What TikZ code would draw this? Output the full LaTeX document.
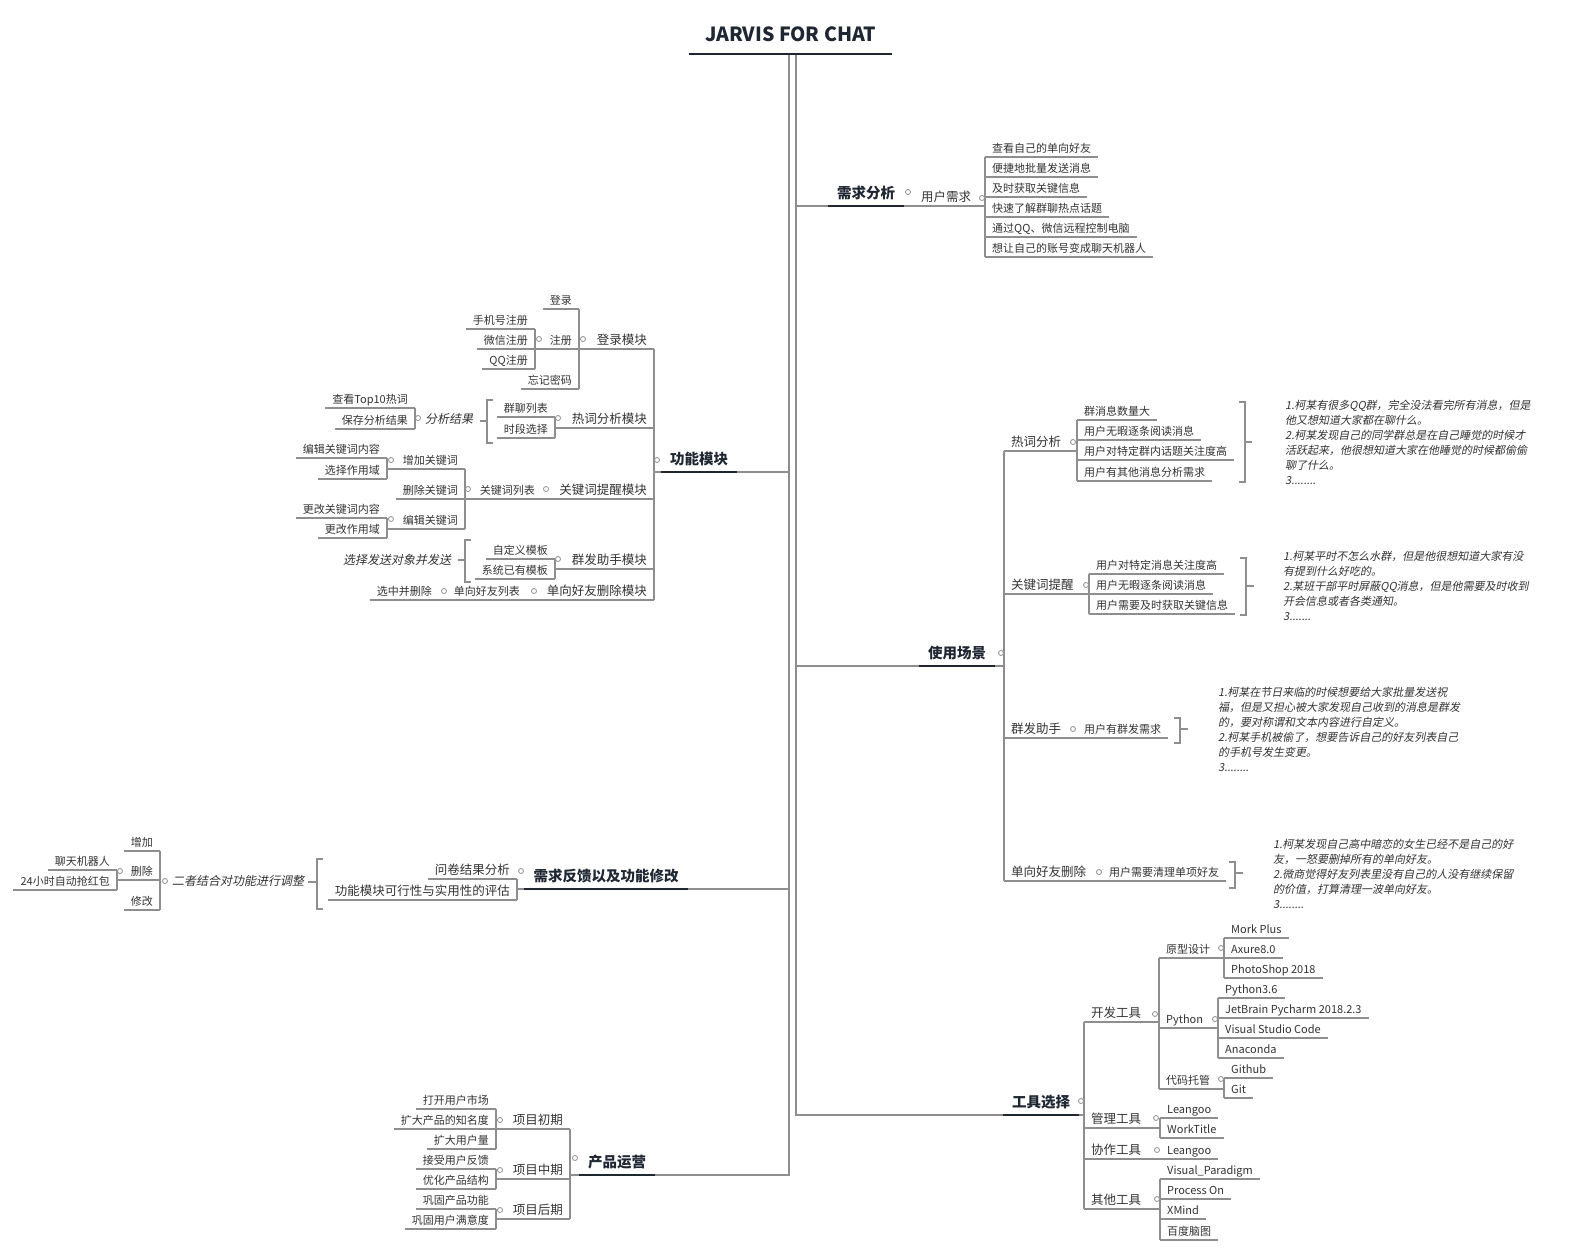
\documentclass[tikz,border=0pt]{standalone}
\usepackage{fontspec}
\setmainfont{Noto Sans CJK SC}
\newfontfamily\slfont{Noto Sans CJK SC}[FakeSlant=0.2]
\definecolor{ink}{HTML}{333333}
\definecolor{rule}{HTML}{8E8E8E}
\definecolor{deep}{HTML}{1F2733}

\tikzset{
  ln/.style={draw=rule, line width=1.1pt},
  thk/.style={draw=deep, line width=2.6pt},
  ul/.style={append after command={(\tikzlastnode.south west) edge[ln] (\tikzlastnode.south east)}},
  knob/.style={circle, draw=rule, fill=white, line width=0.8pt, inner sep=0pt, minimum size=5pt},
  box/.style={inner xsep=7pt, inner ysep=1.8pt, text depth=2.5pt, text=ink},
  lvA/.style={box, ul, font=\fontsize{12.5}{14}\selectfont},
  lvB/.style={box, ul, font=\fontsize{11}{13}\selectfont},
  sumtext/.style={text=ink, inner sep=0pt, font=\slfont\fontsize{12}{14}\selectfont},
  note/.style={text=ink, align=left, anchor=north west, inner sep=0pt, font=\slfont\fontsize{11}{15}\selectfont},
  main/.style={inner xsep=9pt, inner ysep=4.5pt, text depth=3pt, text=deep, font=\fontsize{14.5}{16}\selectfont\bfseries},
  title/.style={minimum width=203pt, inner ysep=12pt, text depth=0pt, text=deep, font=\fontsize{19.5}{22}\selectfont\bfseries},
  toL/.style={anchor=south east},
  toR/.style={anchor=south west},
}

\begin{document}
\begin{tikzpicture}[x=1pt,y=-1pt]
\fill[white] (-2,-2) rectangle (1570,1246);
\useasboundingbox (-2,-2) rectangle (1570,1246);

\node[title, anchor=south] (jarvis) at (788.5,52) {JARVIS FOR CHAT};
\draw[thk] (jarvis.south west) -- (jarvis.south east);
\coordinate (spL) at (787,53);
\coordinate (spR) at (794,53);

% 需求分析
\node[main, anchor=south] (demand) at (864,204) {需求分析};
\node[lvA, toR] (need) at (912,204) {用户需求};
\node[lvB, toR] (need1) at (983,155) {查看自己的单向好友};
\node[lvB, toR] (need2) at (983,175) {便捷地批量发送消息};
\node[lvB, toR] (need3) at (983,195) {及时获取关键信息};
\node[lvB, toR] (need4) at (983,215) {快速了解群聊热点话题};
\node[lvB, toR] (need5) at (983,235) {通过QQ、微信远程控制电脑};
\node[lvB, toR] (need6) at (983,255) {想让自己的账号变成聊天机器人};
\draw[ln] (spR |- demand.south) -- (need1.south west |- demand.south);
\draw[ln] (need1.south west) -- (need6.south west);
\draw[thk] (demand.south west) -- (demand.south east);

% 功能模块
\node[main, anchor=south] (func) at (697,470) {功能模块};
\node[lvA, toL] (login) at (652,347) {登录模块};
\node[lvB, toL] (login1) at (577,307) {登录};
\node[lvB, toL] (login2) at (577,347) {注册};
\node[lvB, toL] (login3) at (577,387) {忘记密码};
\node[lvB, toL] (reg1) at (533,327) {手机号注册};
\node[lvB, toL] (reg2) at (533,347) {微信注册};
\node[lvB, toL] (reg3) at (533,367) {QQ注册};
\node[lvA, toL] (hot) at (652,426) {热词分析模块};
\node[lvB, toL] (hot1) at (553,415) {群聊列表};
\node[lvB, toL] (hot2) at (553,436) {时段选择};
\node[sumtext] (hotsum) at (447,417) {分析结果};
\node[lvB, toL] (hs1) at (413,406) {查看Top10热词};
\node[lvB, toL] (hs2) at (413,427) {保存分析结果};
\node[lvA, toL] (kw) at (652,497) {关键词提醒模块};
\node[lvB, toL] (kwl) at (540,497) {关键词列表};
\node[lvB, toL] (kw1) at (463,467) {增加关键词};
\node[lvB, toL] (kw2) at (463,497) {删除关键词};
\node[lvB, toL] (kw3) at (463,527) {编辑关键词};
\node[lvB, toL] (add1) at (385,456) {编辑关键词内容};
\node[lvB, toL] (add2) at (385,477) {选择作用域};
\node[lvB, toL] (ed1) at (385,516) {更改关键词内容};
\node[lvB, toL] (ed2) at (385,536) {更改作用域};
\node[lvA, toL] (mass) at (652,567) {群发助手模块};
\node[lvB, toL] (mass1) at (553,557) {自定义模板};
\node[lvB, toL] (mass2) at (553,577) {系统已有模板};
\node[sumtext] (masssum) at (395,558) {选择发送对象并发送};
\node[lvA, toL] (del) at (652,598) {单向好友删除模块};
\node[lvB, toL] (dl) at (525,598) {单向好友列表};
\node[lvB, toL] (dsel) at (437,598) {选中并删除};
\draw[ln] (spL |- func.south) -- (login.south east |- func.south);
\draw[thk] (func.south west) -- (func.south east);
\draw[ln] (login.south east) -- (del.south east);
\draw[ln] (login.south east) -- (login1.south east |- login.south);
\draw[ln] (login1.south east) -- (login3.south east);
\draw[ln] (login2.south east) -- (reg1.south east |- login2.south);
\draw[ln] (reg1.south east) -- (reg3.south east);
\draw[ln] (hot.south east) -- (hot1.south east |- hot.south);
\draw[ln] (hot1.south east) -- (hot2.south east);
\draw[ln] (491,398) -- (485,398) -- (485,441) -- (491,441) (485,419) -- (478,419);
\draw[ln] (hs1.south east) -- (hs2.south east);
\draw[ln] (kw.south east) -- (kw1.south east |- kw.south);
\draw[ln] (kw1.south east) -- (kw3.south east);
\draw[ln] (kw1.south east) -- (add1.south east |- kw1.south);
\draw[ln] (add1.south east) -- (add2.south east);
\draw[ln] (kw3.south east) -- (ed1.south east |- kw3.south);
\draw[ln] (ed1.south east) -- (ed2.south east);
\draw[ln] (mass.south east) -- (mass1.south east |- mass.south);
\draw[ln] (mass1.south east) -- (mass2.south east);
\draw[ln] (469,538) -- (463,538) -- (463,580) -- (469,580) (463,558) -- (456,558);
\draw[ln] (del.south east) -- (dsel.south east |- del.south);

% 需求反馈以及功能修改
\node[main, anchor=south] (fb) at (604,887) {需求反馈以及功能修改};
\node[lvA, toL] (fb1) at (515,877) {问卷结果分析};
\node[lvA, toL] (fb2) at (515,898) {功能模块可行性与实用性的评估};
\node[sumtext] (fbsum) at (236,879) {二者结合对功能进行调整};
\node[lvB, toL] (fs1) at (158,849) {增加};
\node[lvB, toL] (fs2) at (158,878) {删除};
\node[lvB, toL] (fs3) at (158,908) {修改};
\node[lvB, toL] (fd1) at (115,868) {聊天机器人};
\node[lvB, toL] (fd2) at (115,888) {24小时自动抢红包};
\draw[ln] (spL |- fb.south) -- (fb1.south east |- fb.south);
\draw[thk] (fb.south west) -- (fb.south east);
\draw[ln] (fb1.south east) -- (fb2.south east);
\draw[ln] (321,857) -- (315,857) -- (315,907) -- (321,907) (315,880) -- (306,880);
\draw[ln] (fs1.south east) -- (fs3.south east);
\draw[ln] (fs2.south east) -- (fd1.south east |- fs2.south);
\draw[ln] (fd1.south east) -- (fd2.south east);

% 产品运营
\node[main, anchor=south] (ops) at (615,1173) {产品运营};
\node[lvA, toL] (op1) at (568,1127) {项目初期};
\node[lvA, toL] (op2) at (568,1177) {项目中期};
\node[lvA, toL] (op3) at (568,1217) {项目后期};
\node[lvB, toL] (op11) at (494,1107) {打开用户市场};
\node[lvB, toL] (op12) at (494,1127) {扩大产品的知名度};
\node[lvB, toL] (op13) at (494,1147) {扩大用户量};
\node[lvB, toL] (op21) at (494,1167) {接受用户反馈};
\node[lvB, toL] (op22) at (494,1187) {优化产品结构};
\node[lvB, toL] (op31) at (494,1207) {巩固产品功能};
\node[lvB, toL] (op32) at (494,1227) {巩固用户满意度};
\draw[ln] (spL) -- (spL |- ops.south) -- (op1.south east |- ops.south);
\draw[thk] (ops.south west) -- (ops.south east);
\draw[ln] (op1.south east) -- (op3.south east);
\draw[ln] (op1.south east) -- (op11.south east |- op1.south);
\draw[ln] (op11.south east) -- (op13.south east);
\draw[ln] (op2.south east) -- (op21.south east |- op2.south);
\draw[ln] (op21.south east) -- (op22.south east);
\draw[ln] (op3.south east) -- (op31.south east |- op3.south);
\draw[ln] (op31.south east) -- (op32.south east);

% 使用场景
\node[main, anchor=south] (scene) at (955,664) {使用场景};
\node[lvA, toR] (sc1) at (1002,449) {热词分析};
\node[lvB, toR] (sc11) at (1075,418) {群消息数量大};
\node[lvB, toR] (sc12) at (1075,438) {用户无暇逐条阅读消息};
\node[lvB, toR] (sc13) at (1075,458) {用户对特定群内话题关注度高};
\node[lvB, toR] (sc14) at (1075,479) {用户有其他消息分析需求};
\node[note] (n1) at (1283,397.5) {1.柯某有很多QQ群，完全没法看完所有消息，但是\\他又想知道大家都在聊什么。\\2.柯某发现自己的同学群总是在自己睡觉的时候才\\活跃起来，他很想知道大家在他睡觉的时候都偷偷\\聊了什么。\\3........};
\node[lvA, toR] (sc2) at (1002,592) {关键词提醒};
\node[lvB, toR] (sc21) at (1087,572) {用户对特定消息关注度高};
\node[lvB, toR] (sc22) at (1087,592) {用户无暇逐条阅读消息};
\node[lvB, toR] (sc23) at (1087,612) {用户需要及时获取关键信息};
\node[note] (n2) at (1281,548.5) {1.柯某平时不怎么水群，但是他很想知道大家有没\\有提到什么好吃的。\\2.某班干部平时屏蔽QQ消息，但是他需要及时收到\\开会信息或者各类通知。\\3.......};
\node[lvA, toR] (sc3) at (1002,736) {群发助手};
\node[lvB, toR] (sc31) at (1075,736) {用户有群发需求};
\node[note] (n3) at (1216,684.5) {1.柯某在节日来临的时候想要给大家批量发送祝\\福，但是又担心被大家发现自己收到的消息是群发\\的，要对称谓和文本内容进行自定义。\\2.柯某手机被偷了，想要告诉自己的好友列表自己\\的手机号发生变更。\\3........};
\node[lvA, toR] (sc4) at (1002,879) {单向好友删除};
\node[lvB, toR] (sc41) at (1100,879) {用户需要清理单项好友};
\node[note] (n4) at (1271,836.5) {1.柯某发现自己高中暗恋的女生已经不是自己的好\\友，一怒要删掉所有的单向好友。\\2.微商觉得好友列表里没有自己的人没有继续保留\\的价值，打算清理一波单向好友。\\3........};
\draw[ln] (spR |- scene.south) -- (sc1.south west |- scene.south);
\draw[thk] (scene.south west) -- (scene.south east);
\draw[ln] (sc1.south west) -- (sc4.south west);
\draw[ln] (sc1.south west) -- (sc11.south west |- sc1.south);
\draw[ln] (sc11.south west) -- (sc14.south west);
\draw[ln] (1237,400) -- (1243,400) -- (1243,480) -- (1237,480) (1243,440) -- (1250,440);
\draw[ln] (sc2.south west) -- (sc21.south west |- sc2.south);
\draw[ln] (sc21.south west) -- (sc23.south west);
\draw[ln] (1238,556) -- (1244,556) -- (1244,613) -- (1238,613) (1244,584) -- (1252,584);
\draw[ln] (sc3.south west) -- (sc31.south west);
\draw[ln] (1172,716) -- (1178,716) -- (1178,741) -- (1172,741) (1178,727) -- (1186,727);
\draw[ln] (sc4.south west) -- (sc41.south west);
\draw[ln] (1227,860) -- (1233,860) -- (1233,886) -- (1227,886) (1233,871) -- (1241,871);

% 工具选择
\node[main, anchor=south] (tools) at (1039,1113) {工具选择};
\node[lvA, toR] (t1) at (1082,1020) {开发工具};
\node[lvB, toR] (t11) at (1157,956) {原型设计};
\node[lvB, toR] (t111) at (1222,936) {Mork Plus};
\node[lvB, toR] (t112) at (1222,956) {Axure8.0};
\node[lvB, toR] (t113) at (1222,976) {PhotoShop 2018};
\node[lvB, toR] (t12) at (1157,1026) {Python};
\node[lvB, toR] (t121) at (1216,996) {Python3.6};
\node[lvB, toR] (t122) at (1216,1016) {JetBrain Pycharm 2018.2.3};
\node[lvB, toR] (t123) at (1216,1036) {Visual Studio Code};
\node[lvB, toR] (t124) at (1216,1056) {Anaconda};
\node[lvB, toR] (t13) at (1157,1087) {代码托管};
\node[lvB, toR] (t131) at (1222,1076) {Github};
\node[lvB, toR] (t132) at (1222,1096) {Git};
\node[lvA, toR] (t2) at (1082,1126) {管理工具};
\node[lvB, toR] (t21) at (1158,1116) {Leangoo};
\node[lvB, toR] (t22) at (1158,1136) {WorkTitle};
\node[lvA, toR] (t3) at (1082,1157) {协作工具};
\node[lvB, toR] (t31) at (1158,1157) {Leangoo};
\node[lvA, toR] (t4) at (1082,1207) {其他工具};
\node[lvB, toR] (t41) at (1158,1177) {Visual\_Paradigm};
\node[lvB, toR] (t42) at (1158,1197) {Process On};
\node[lvB, toR] (t43) at (1158,1217) {XMind};
\node[lvB, toR] (t44) at (1158,1238) {百度脑图};
\draw[ln] (spR) -- (spR |- tools.south) -- (t1.south west |- tools.south);
\draw[thk] (tools.south west) -- (tools.south east);
\draw[ln] (t1.south west) -- (t4.south west);
\draw[ln] (t1.south west) -- (t11.south west |- t1.south);
\draw[ln] (t11.south west) -- (t13.south west);
\draw[ln] (t11.south west) -- (t111.south west |- t11.south);
\draw[ln] (t111.south west) -- (t113.south west);
\draw[ln] (t12.south west) -- (t121.south west |- t12.south);
\draw[ln] (t121.south west) -- (t124.south west);
\draw[ln] (t13.south west) -- (t131.south west |- t13.south);
\draw[ln] (t131.south west) -- (t132.south west);
\draw[ln] (t2.south west) -- (t21.south west |- t2.south);
\draw[ln] (t21.south west) -- (t22.south west);
\draw[ln] (t3.south west) -- (t31.south west);
\draw[ln] (t4.south west) -- (t41.south west |- t4.south);
\draw[ln] (t41.south west) -- (t44.south west);

% knobs
\node[knob] (demand-o) at (906,190) {};
\node[knob] (need-o) at (980,196) {};
\node[knob] (func-o) at (655,458) {};
\node[knob] (login-o) at (581,337) {};
\node[knob] (login2-o) at (537,337) {};
\node[knob] (hot-o) at (556,416) {};
\node[knob] (hotsum-o) at (416,416) {};
\node[knob] (kw-o) at (544,487) {};
\node[knob] (kwl-o) at (466,487) {};
\node[knob] (kw1-o) at (389,458) {};
\node[knob] (kw3-o) at (389,517) {};
\node[knob] (mass-o) at (556,557) {};
\node[knob] (del-o) at (532,589) {};
\node[knob] (dl-o) at (442,589) {};
\node[knob] (fb-o) at (519,869) {};
\node[knob] (fbsum-o) at (163,879) {};
\node[knob] (fs2-o) at (118,869) {};
\node[knob] (ops-o) at (573,1156) {};
\node[knob] (op1-o) at (498,1118) {};
\node[knob] (op2-o) at (498,1168) {};
\node[knob] (op3-o) at (498,1208) {};
\node[knob] (scene-o) at (999,651) {};
\node[knob] (sc1-o) at (1071,440) {};
\node[knob] (sc2-o) at (1084,583) {};
\node[knob] (sc3-o) at (1071,727) {};
\node[knob] (sc4-o) at (1097,870) {};
\node[knob] (tools-o) at (1079,1099) {};
\node[knob] (t1-o) at (1153,1012) {};
\node[knob] (t11-o) at (1219,946) {};
\node[knob] (t12-o) at (1213,1017) {};
\node[knob] (t13-o) at (1219,1077) {};
\node[knob] (t2-o) at (1154,1116) {};
\node[knob] (t3-o) at (1155,1148) {};
\node[knob] (t4-o) at (1155,1197) {};
\end{tikzpicture}
\end{document}
